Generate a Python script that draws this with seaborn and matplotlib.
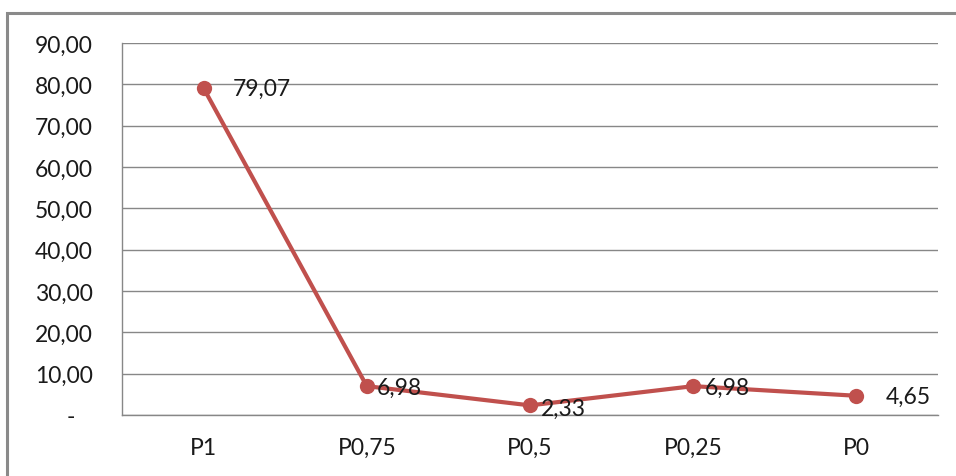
import matplotlib
matplotlib.use("Agg")
import matplotlib.pyplot as plt
import pandas as pd
import seaborn as sns
from matplotlib.patches import Rectangle
from matplotlib.ticker import FixedLocator, FuncFormatter

categories = ["P1", "P0,75", "P0,5", "P0,25", "P0"]
values = [79.07, 6.98, 2.33, 6.98, 4.65]
label_dx = [29, 10, 11, 12, 29]  # px offset of data labels, as placed in the original
label_dy = [0, -1, -3, -1, -1]

LINE = "#C0504D"
GRID = "#878787"
FS = 16.5

sns.set_theme(style="white")
plt.rcParams["font.family"] = ["Lato", "DejaVu Sans"]

df = pd.DataFrame({"cat": categories, "val": values})

fig = plt.figure(figsize=(9.56, 4.77), dpi=100)
ax = fig.add_axes([122 / 956, 1 - 416 / 477, 816 / 956, 372 / 477])

sns.lineplot(data=df, x="cat", y="val", sort=False, ax=ax, color=LINE,
             linewidth=3, marker="o", markersize=11, markeredgewidth=0,
             zorder=3)

ax.set_xlim(-0.5, len(categories) - 0.5)
ax.set_ylim(0, 90)
ax.yaxis.set_major_locator(FixedLocator(range(0, 91, 10)))
ax.yaxis.set_major_formatter(FuncFormatter(
    lambda v, p: "-   " if v == 0 else f"{v:.2f}".replace(".", ",")))
ax.grid(axis="y", color=GRID, linewidth=1)
ax.set_xlabel("")
ax.set_ylabel("")
for s in ["top", "right"]:
    ax.spines[s].set_visible(False)
for s in ["left", "bottom"]:
    ax.spines[s].set_color(GRID)
    ax.spines[s].set_linewidth(1)
ax.tick_params(axis="y", length=0, pad=21, labelsize=FS, labelcolor="#1a1a1a")
ax.tick_params(axis="x", length=0, pad=16, labelsize=FS, labelcolor="#1a1a1a")

for i, v in enumerate(values):
    ax.annotate(f"{v:.2f}".replace(".", ","), (i, v),
                xytext=(label_dx[i] * 0.72, label_dy[i] * 0.72),
                textcoords="offset points", ha="left", va="center",
                fontsize=FS, color="#1a1a1a", zorder=4)

# chart frame, cut off at the right and bottom edge as in the screenshot
fig.add_artist(Rectangle((7 / 956, -0.05), 1.2, 1 - 14 / 477 + 0.05,
                         transform=fig.transFigure, fill=False,
                         edgecolor="#8a8a8a", linewidth=2.2))

fig.savefig("out.png", dpi=100)
